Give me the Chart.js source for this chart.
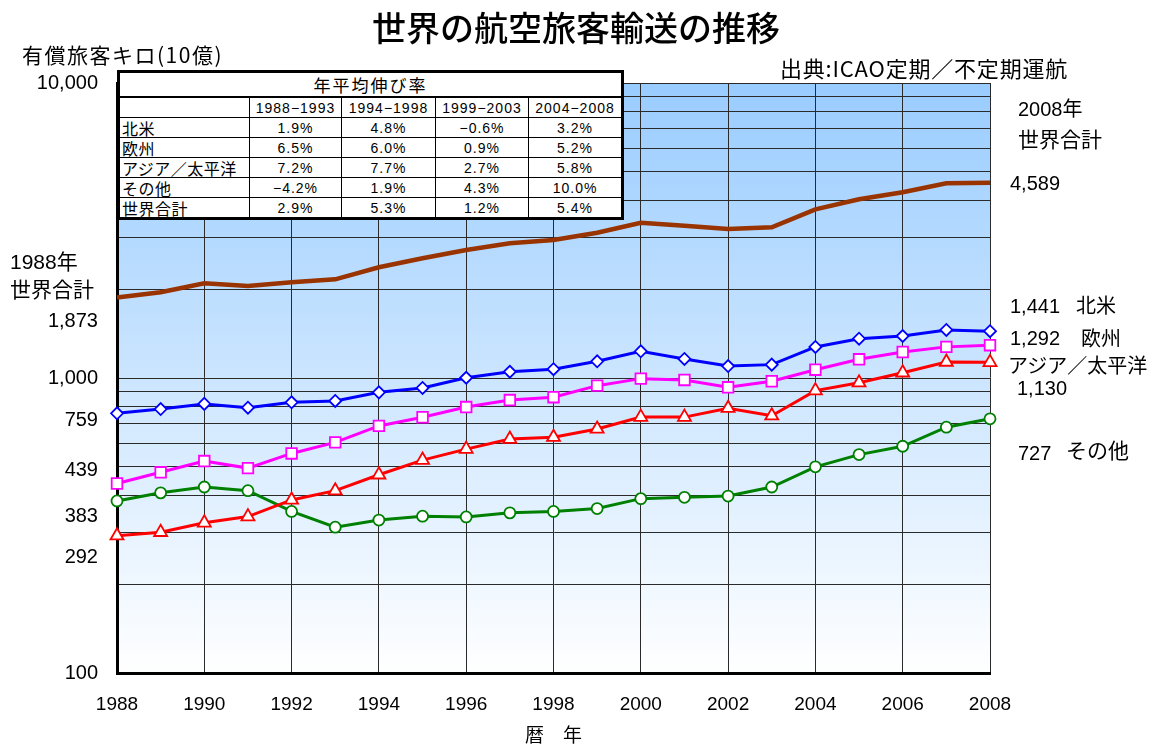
<!DOCTYPE html>
<html lang="ja">
<head>
<meta charset="utf-8">
<title>世界の航空旅客輸送の推移</title>
<script src="https://cdn.jsdelivr.net/npm/chart.js@4.4.1/dist/chart.umd.min.js"></script>
<style>
  body { margin: 0; background: #fff; }
  #wrap { position: relative; width: 1152px; height: 746px; font-family: 'Liberation Sans', 'Noto Sans CJK JP', sans-serif; color: #000; }
  #chart { position: absolute; left: 0; top: 0; }
  .txt { position: absolute; white-space: nowrap; line-height: 1; }
  .title { left: 0; width: 1152px; text-align: center; top: 10px; font-size: 34px; font-family: 'Noto Sans CJK JP', sans-serif; font-weight: 500; }
  .r { text-align: right; width: 90px; }
  #growth { position: absolute; left: 117px; top: 70px; width: 507px; border-collapse: collapse; background: #fff; border: 3px solid #000; table-layout: fixed; }
  #growth td { border: 1px solid #000; padding: 0; height: 19px; font-size: 14px; line-height: 18px; text-align: center; letter-spacing: 1px; }
  #growth td.lab { text-align: left; font-size: 16px; padding-left: 2px; font-family: 'Noto Sans CJK JP', sans-serif; letter-spacing: 0.5px; }
  #growth tr.head td { height: 23px; font-size: 17px; letter-spacing: 2px; border-bottom: 2px solid #000; font-family: 'Noto Sans CJK JP', sans-serif; }
</style>
</head>
<body>
<div id="wrap">
  <canvas id="chart" width="1152" height="746"></canvas>
  <div class="txt title">世界の航空旅客輸送の推移</div>
  <div class="txt" style="left:22px;top:44px;font-size:21px;font-family:'Noto Sans CJK JP';letter-spacing:1.5px;">有償旅客キロ(10億)</div>
  <div class="txt" style="left:780px;top:56px;font-size:22px;font-family:'Noto Sans CJK JP';letter-spacing:0.8px;">出典:ICAO定期／不定期運航</div>

  <div class="txt" style="left:10px;top:251px;font-size:21px;">1988年</div>
  <div class="txt" style="left:10px;top:279px;font-size:21px;">世界合計</div>
  <div id="leftLabels"></div>

  <div class="txt" style="left:1018px;top:99px;font-size:20px;">2008年</div>
  <div class="txt" style="left:1018px;top:129px;font-size:21px;">世界合計</div>
  <div id="rightLabels"></div>
  <div class="txt" style="left:1076px;top:296px;font-size:20px;">北米</div>
  <div class="txt" style="left:1081px;top:329px;font-size:20px;">欧州</div>
  <div class="txt" style="left:1008px;top:356px;font-size:20px;">アジア／太平洋</div>
  <div class="txt" style="left:1066px;top:440px;font-size:21px;">その他</div>

  <table id="growth"></table>
</div>
<script>
const years = [1988, 1989, 1990, 1991, 1992, 1993, 1994, 1995, 1996, 1997, 1998,
               1999, 2000, 2001, 2002, 2003, 2004, 2005, 2006, 2007, 2008];

// 有償旅客キロ (10億)
const worldTotal  = [1873, 1952, 2094, 2051, 2110, 2160, 2373, 2546, 2716, 2861, 2936,
                     3109, 3360, 3283, 3200, 3242, 3731, 4035, 4262, 4571, 4589];
const northAmerica = [759, 785, 817, 793, 827, 836, 894, 925, 1002, 1050, 1071,
                      1139, 1232, 1160, 1098, 1110, 1274, 1359, 1388, 1455, 1441];
const europe      = [439, 479, 523, 495, 555, 605, 688, 736, 797, 842, 861,
                     942, 995, 985, 930, 975, 1067, 1157, 1225, 1275, 1292];
const asiaPacific = [292, 300, 323, 339, 386, 415, 470, 527, 574, 621, 630,
                     672, 737, 737, 790, 745, 906, 964, 1042, 1133, 1130];
const others      = [383, 408, 427, 415, 353, 312, 330, 340, 338, 349, 353,
                     361, 390, 394, 398, 427, 500, 550, 587, 681, 727];

const yTicks = [100, 200, 300, 400, 500, 600, 700, 800, 900,
                1000, 2000, 3000, 4000, 5000, 6000, 7000, 8000, 9000, 10000];
const yLabeled = [100, 1000, 10000];

// 年平均伸び率
const periods = ['1988−1993', '1994−1998', '1999−2003', '2004−2008'];
const regions = ['北米', '欧州', 'アジア／太平洋', 'その他', '世界合計'];
const rateNA    = [1.9, 4.8, -0.6, 3.2];
const rateEU    = [6.5, 6.0, 0.9, 5.2];
const rateAP    = [7.2, 7.7, 2.7, 5.8];
const rateOther = [-4.2, 1.9, 4.3, 10.0];
const rateWorld = [2.9, 5.3, 1.2, 5.4];

const fmt = v => v.toLocaleString('en-US');
const pct = v => (v < 0 ? '−' + (-v).toFixed(1) : v.toFixed(1)) + '%';

// growth table
const tbl = document.getElementById('growth');
let html = '<colgroup><col style="width:131px"><col style="width:92px"><col style="width:94px"><col style="width:93px"><col style="width:94px"></colgroup>';
html += '<tr class="head"><td colspan="5">年平均伸び率</td></tr>';
html += '<tr><td></td>' + periods.map(p => `<td>${p}</td>`).join('') + '</tr>';
[rateNA, rateEU, rateAP, rateOther, rateWorld].forEach((row, i) => {
  html += `<tr><td class="lab">${regions[i]}</td>` + row.map(v => `<td>${pct(v)}</td>`).join('') + '</tr>';
});
tbl.innerHTML = html;

// first / last year value labels beside the axes
const series = [worldTotal, northAmerica, europe, asiaPacific, others];
const leftTops = [310, 409, 459, 546, 505];
const rightPos = [[1010, 173], [1010, 296], [1010, 328], [1017, 378], [1018, 443]];
document.getElementById('leftLabels').innerHTML = series.map((s, i) =>
  `<div class="txt r" style="left:8px;top:${leftTops[i]}px;font-size:20px;">${fmt(s[0])}</div>`).join('');
document.getElementById('rightLabels').innerHTML = series.map((s, i) =>
  `<div class="txt" style="left:${rightPos[i][0]}px;top:${rightPos[i][1]}px;font-size:20px;">${fmt(s[s.length - 1])}</div>`).join('');

const plotBg = {
  id: 'plotBg',
  beforeDraw(chart) {
    const { ctx, chartArea: { left, top, right, bottom } } = chart;
    const g = ctx.createLinearGradient(0, top, 0, bottom);
    g.addColorStop(0, '#99ccff');
    g.addColorStop(1, '#ffffff');
    ctx.save();
    ctx.fillStyle = g;
    ctx.fillRect(left, top, right - left, bottom - top);
    ctx.restore();
  }
};

const pts = arr => arr.map((v, i) => ({ x: years[i], y: v }));
const mk = (label, data, color, style, radius, width) => ({
  label, data: pts(data), borderColor: color, borderWidth: width,
  pointStyle: style, pointRadius: radius, pointBackgroundColor: '#fff',
  pointBorderColor: color, pointBorderWidth: 1.8, tension: 0, clip: false
});

new Chart(document.getElementById('chart'), {
  type: 'line',
  data: {
    datasets: [
      mk('世界合計', worldTotal, '#993300', 'circle', 0, 4.5),
      mk('北米', northAmerica, '#0000ff', 'rectRot', 6, 3),
      mk('欧州', europe, '#ff00ff', 'rect', 7.5, 3),
      mk('アジア／太平洋', asiaPacific, '#ff0000', 'triangle', 7.5, 3),
      mk('その他', others, '#008000', 'circle', 5.5, 3),
    ]
  },
  options: {
    responsive: false,
    animation: false,
    layout: { padding: { left: 0, top: 83, right: 162, bottom: 0 } },
    plugins: { legend: { display: false }, tooltip: { enabled: false } },
    scales: {
      x: {
        type: 'linear', min: 1988, max: 2008,
        afterFit: s => { s.height = 73; },
        grid: { color: '#2a2a2a', lineWidth: 1, drawTicks: false },
        border: { color: '#000', width: 3 },
        ticks: { stepSize: 2, padding: 20, color: '#000', font: { size: 19, family: 'Liberation Sans' }, callback: v => String(v), maxRotation: 0 },
        title: { display: true, text: '暦　年', color: '#000', padding: { top: 0, bottom: 0 }, font: { size: 19, family: 'Noto Sans CJK JP' } }
      },
      y: {
        type: 'logarithmic', min: 100, max: 10000,
        afterFit: s => { s.width = 117; },
        afterBuildTicks: s => { s.ticks = yTicks.map(v => ({ value: v })); },
        grid: { color: '#2a2a2a', lineWidth: 1, drawTicks: false },
        border: { color: '#000', width: 3 },
        ticks: { padding: 19, color: '#000', font: { size: 20, family: 'Liberation Sans' }, callback: v => yLabeled.includes(v) ? fmt(v) : '' }
      }
    }
  },
  plugins: [plotBg]
});
</script>
</body>
</html>
